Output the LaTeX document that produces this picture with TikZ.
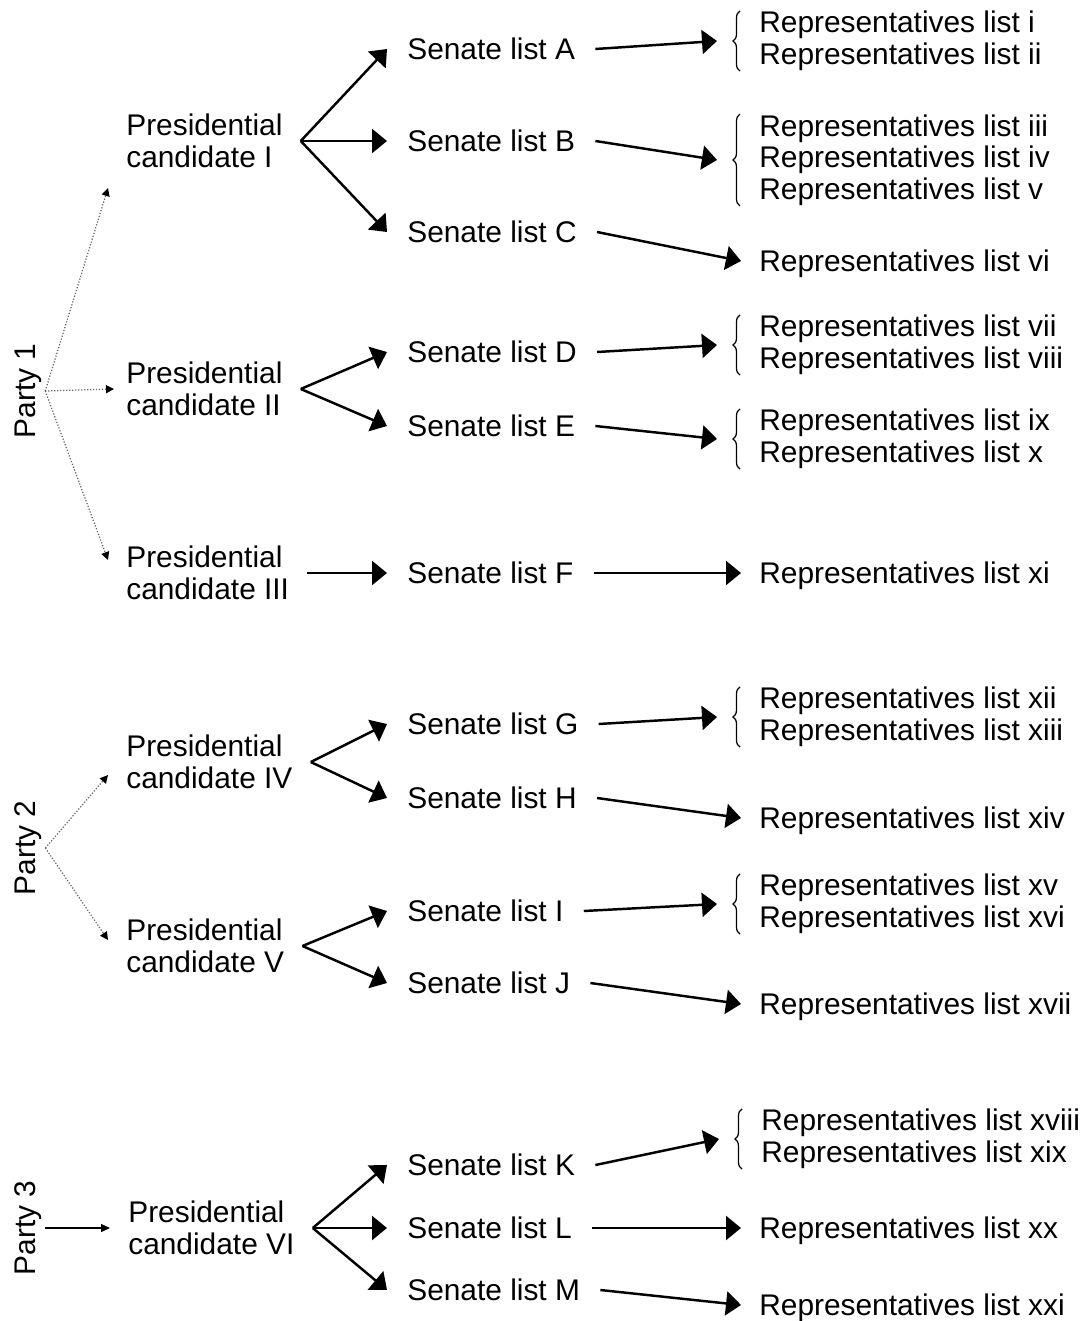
\documentclass[tikz,border=0pt]{standalone}
\usepackage{fontspec}
\setmainfont{Liberation Sans}
\usetikzlibrary{arrows.meta,calc,decorations.pathreplacing}

\begin{document}
\begin{tikzpicture}[x=0.02cm,y=-0.02cm,font=\fontsize{17}{18}\selectfont]
		\tikzstyle{party} = [rotate=90,inner sep=2pt]
		\tikzstyle{cand} = [anchor=west,align=left,inner xsep=0.36cm,inner ysep=0pt]
		\tikzstyle{senate} = [anchor=west,inner xsep=0.4cm,text height=12pt,text depth=0pt]
		\tikzstyle{rep} = [anchor=west,inner xsep=0.36cm,text height=12pt,text depth=0pt]
		\tikzstyle{group} = [anchor=west,align=left,inner xsep=0.84cm,inner ysep=0pt]
		\tikzstyle{repbrace} = [line width=0.7pt,decorate,decoration={brace,amplitude=4pt}]
		\tikzstyle{vote} = [line width=1.4pt,-{Triangle[length=0.3cm,width=0.48cm]}]
		\tikzstyle{choice} = [black!60,densely dotted,line width=0.7pt,-{Triangle[length=0.16cm,width=0.16cm,color=black]}]
		\tikzstyle{single} = [line width=0.7pt,-{Triangle[length=0.18cm,width=0.16cm]}]
		\useasboundingbox (0,0) rectangle (1087,1321);
		% Party 1
		\node[party] (p1) at (28,391) {Party 1};
		\node[cand] (c1) at (108,141) {Presidential\\candidate I};
		\node[cand] (c2) at (108,389) {Presidential\\candidate II};
		\node[cand] (c3) at (108,573) {Presidential\\candidate III};
		\draw[choice] (p1.south) -- ($(c1.west)+(0,47)$);
		\draw[choice] (p1.south) -- ($(c2.west)+(6,0)$);
		\draw[choice] (p1.south) -- ($(c3.west)+(0,-13)$);
		% Party 2
		\node[party] (p2) at (28,848) {Party 2};
		\node[cand] (c4) at (108,762) {Presidential\\candidate IV};
		\node[cand] (c5) at (108,946) {Presidential\\candidate V};
		\draw[choice] (p2.south) -- ($(c4.west)+(0,13)$);
		\draw[choice] (p2.south) -- ($(c5.west)+(0,-6)$);
		% Party 3
		\node[party] (p3) at (28,1228) {Party 3};
		\node[cand] (c6) at (110,1228) {Presidential\\candidate VI};
		\draw[single] (p3.south) -- (c6.west);
		% Candidate I
		\node[senate] (sA) at (387,49) {Senate list A};
		\node[senate] (sB) at (387,141) {Senate list B};
		\node[senate] (sC) at (387,232) {Senate list C};
		\draw[vote] (c1.east) -- (sA.west);
		\draw[vote] (c1.east) -- (sB.west);
		\draw[vote] (c1.east) -- (sC.west);
		% Candidate II
		\node[senate] (sD) at (387,352) {Senate list D};
		\node[senate] (sE) at (387,426) {Senate list E};
		\draw[vote] (c2.east) -- (sD.west);
		\draw[vote] (c2.east) -- (sE.west);
		% Candidate III
		\node[senate] (sF) at (387,573) {Senate list F};
		\draw[vote] (c3.east) -- (sF.west);
		% Candidate IV
		\node[senate] (sG) at (387,724) {Senate list G};
		\node[senate] (sH) at (387,798) {Senate list H};
		\draw[vote] (c4.east) -- (sG.west);
		\draw[vote] (c4.east) -- (sH.west);
		% Candidate V
		\node[senate] (sI) at (387,911) {Senate list I};
		\node[senate] (sJ) at (387,983) {Senate list J};
		\draw[vote] (c5.east) -- (sI.west);
		\draw[vote] (c5.east) -- (sJ.west);
		% Candidate VI
		\node[senate] (sK) at (387,1165) {Senate list K};
		\node[senate] (sL) at (387,1228) {Senate list L};
		\node[senate] (sM) at (387,1290) {Senate list M};
		\draw[vote] (c6.east) -- (sK.west);
		\draw[vote] (c6.east) -- (sL.west);
		\draw[vote] (c6.east) -- (sM.west);
		% Representatives
		\node[group] (rA) at (717,41) {Representatives list i\\Representatives list ii};
		\node[group] (rB) at (717,160) {Representatives list iii\\Representatives list iv\\Representatives list v};
		\node[rep] (rC) at (741,261) {Representatives list vi};
		\node[group] (rD) at (717,345) {Representatives list vii\\Representatives list viii};
		\node[group] (rE) at (717,439) {Representatives list ix\\Representatives list x};
		\node[rep] (rF) at (741,573) {Representatives list xi};
		\node[group] (rG) at (717,717) {Representatives list xii\\Representatives list xiii};
		\node[rep] (rH) at (741,818) {Representatives list xiv};
		\node[group] (rI) at (717,904) {Representatives list xv\\Representatives list xvi};
		\node[rep] (rJ) at (741,1004) {Representatives list xvii};
		\node[group] (rK) at (719,1139) {Representatives list xviii\\Representatives list xix};
		\node[rep] (rL) at (741,1228) {Representatives list xx};
		\node[rep] (rM) at (741,1305) {Representatives list xxi};
		\foreach \s in {A,...,M}
			\draw[vote] (s\s.east) -- (r\s.west);
		\foreach \g in {A,B,D,E,G,I,K}
			\draw[repbrace] ([xshift=0.46cm]r\g.south west) -- ([xshift=0.46cm]r\g.north west);
\end{tikzpicture}
\end{document}
